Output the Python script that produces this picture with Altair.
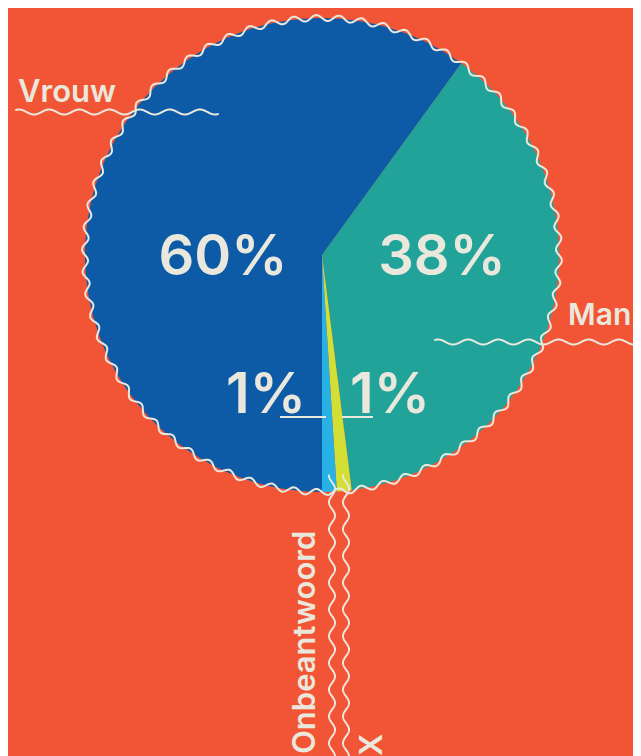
import math
import numpy as np
import pandas as pd
import altair as alt

# ---- data ----
categories = ["Vrouw", "Man", "X", "Onbeantwoord"]
percentages = [60, 38, 1, 1]
colors = ["#0D5AA7", "#21A39A", "#D3DF35", "#27B1E5"]
pct_labels = [f"{p}%" for p in percentages]

BG = "#F25536"
CREAM = "#EAE8DC"
FONT = "Inter"
W, H = 625, 748
CX, CY, R = 314, 247, 237

df = pd.DataFrame({"cat": categories, "pct": percentages,
                   "order": list(range(len(categories))), "label": pct_labels})
one = pd.DataFrame({"k": [0]})


def fmt(pts):
    return "M" + " L".join(f"{x:.4f},{y:.4f}" for x, y in pts)


def wave_path(n_waves, amp, vertical=False, npts=500):
    t = np.linspace(-1, 1, npts)
    w = amp * np.sin(t * math.pi * n_waves)
    pts = zip(w, t) if vertical else zip(t, w)
    return fmt(pts)


def wavy_circle(n_waves, amp, npts=1200):
    th = np.linspace(0, 2 * math.pi, npts)
    r = 1 + amp * np.sin(th * n_waves)
    return fmt(zip(r * np.cos(th), r * np.sin(th))) + " Z"


pie = alt.Chart(df).mark_arc(outerRadius=R).encode(
    theta=alt.Theta("pct:Q", stack=True,
                    scale=alt.Scale(range=[math.pi, 3 * math.pi])),
    color=alt.Color("cat:N", scale=alt.Scale(domain=categories, range=colors),
                    legend=None),
    order=alt.Order("order:Q"),
    x=alt.value(CX), y=alt.value(CY),
)


def deco(shape, x, y, length):
    return alt.Chart(one).mark_point(
        shape=shape, filled=False, stroke=CREAM, strokeWidth=2, opacity=1,
        size=length * length, strokeJoin="round", strokeCap="round"
    ).encode(x=alt.value(x), y=alt.value(y))


outline = deco(wavy_circle(66, 3.0 / R), CX, CY, 2 * R)
line_vrouw = deco(wave_path(6.7, 2.5 / 101), 109, 104, 202)
line_man = deco(wave_path(6.7, 2.5 / 101), 528, 334, 202)
line_onb = deco(wave_path(10.5, 3.0 / 140, vertical=True), 324, 608, 281)
line_x = deco(wave_path(10.5, 3.0 / 140, vertical=True), 338, 608, 281)


def rule(x1, x2, y):
    return alt.Chart(one).mark_rule(color=CREAM, strokeWidth=2).encode(
        x=alt.value(x1), x2=alt.value(x2), y=alt.value(y))


under_left = rule(272, 318, 409)
under_right = rule(334, 365, 409)


def pct_text(cat, x, y):
    return alt.Chart(df).transform_filter(alt.datum.cat == cat).mark_text(
        font=FONT, fontSize=56, fontWeight=600, color=CREAM,
        align="center", baseline="alphabetic"
    ).encode(text="label:N", x=alt.value(x), y=alt.value(y))


def cat_text(cat, x, y, angle=0, size=31):
    return alt.Chart(df).transform_filter(alt.datum.cat == cat).mark_text(
        font=FONT, fontSize=size, fontWeight=600, color=CREAM,
        align="left", baseline="alphabetic", angle=angle
    ).encode(text="cat:N", x=alt.value(x), y=alt.value(y))


layers = [
    pie, outline, line_vrouw, line_man, line_onb, line_x,
    under_left, under_right,
    pct_text("Vrouw", 215, 267),
    pct_text("Man", 434, 267),
    pct_text("Onbeantwoord", 258, 405),
    pct_text("X", 382, 405),
    cat_text("Vrouw", 10, 94),
    cat_text("Man", 560, 317, size=30),
    cat_text("Onbeantwoord", 307, 746, 270),
    cat_text("X", 374, 748, 270),
]

chart = alt.layer(*layers).properties(
    width=W, height=H,
    autosize=alt.AutoSizeParams(type="none"),
    padding=0,
    background=BG,
).configure_view(stroke=None)

chart.save("out.html", embed_options={"renderer": "svg", "actions": False})
